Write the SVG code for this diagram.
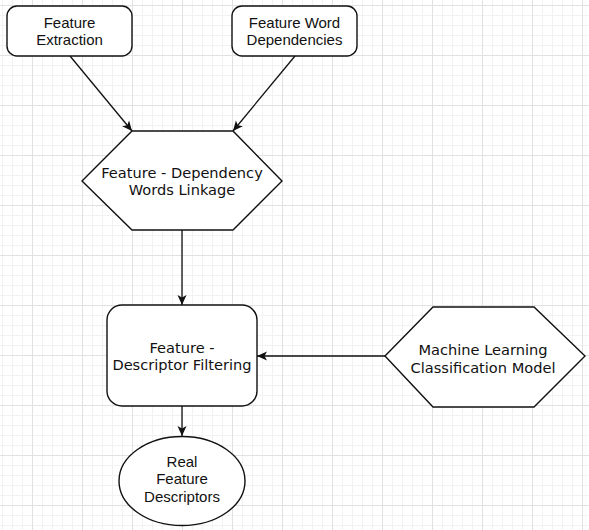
<svg xmlns="http://www.w3.org/2000/svg" width="589" height="530" viewBox="0 0 589 530">
  <defs>
    <pattern id="minor" patternUnits="userSpaceOnUse" x="2" y="5" width="10" height="10">
      <rect x="0" y="0" width="1" height="10" fill="#f2f2f2"/>
      <rect x="0" y="0" width="10" height="1" fill="#f2f2f2"/>
    </pattern>
    <pattern id="major" patternUnits="userSpaceOnUse" x="32" y="5" width="50" height="50">
      <rect x="0" y="0" width="1" height="50" fill="#e1e1e1"/>
      <rect x="0" y="0" width="50" height="1" fill="#e1e1e1"/>
    </pattern>
    <marker id="arrow" viewBox="0 0 10 10" markerUnits="userSpaceOnUse" markerWidth="10" markerHeight="10" refX="10" refY="5" orient="auto">
      <path d="M0,0.5 L10,5 L0,9.5 L2.5,5 Z" fill="#111"/>
    </marker>
    <style>
      .shape { fill: #ffffff; stroke: #111111; stroke-width: 1.4; }
      .edge { fill: none; stroke: #111111; stroke-width: 1.3; marker-end: url(#arrow); }
      .arial { font-family: "Liberation Sans", Arial, sans-serif; font-size: 15px; fill: #111; text-anchor: middle; }
      .verdana { font-family: "DejaVu Sans", Verdana, sans-serif; font-size: 14.6px; fill: #111; text-anchor: middle; }
    </style>
  </defs>

  <rect width="589" height="530" fill="#ffffff"/>
  <rect width="589" height="530" fill="url(#minor)"/>
  <rect width="589" height="530" fill="url(#major)"/>

  <g id="connectors">
    <line class="edge" x1="70" y1="56" x2="132" y2="131"/>
    <line class="edge" x1="295" y1="56" x2="233" y2="131"/>
    <line class="edge" x1="182" y1="230" x2="182" y2="305"/>
    <line class="edge" x1="385" y1="356" x2="257" y2="356"/>
    <line class="edge" x1="182" y1="406" x2="182" y2="436"/>
  </g>

  <g id="feature-extraction">
    <rect class="shape" x="7" y="6" width="125" height="50" rx="10" ry="10"/>
    <text class="arial" x="69.5" y="28">Feature</text>
    <text class="arial" x="69.5" y="45">Extraction</text>
  </g>

  <g id="feature-word-dependencies">
    <rect class="shape" x="232" y="6" width="125" height="50" rx="10" ry="10"/>
    <text class="arial" x="294.5" y="28">Feature Word</text>
    <text class="arial" x="294.5" y="45">Dependencies</text>
  </g>

  <g id="feature-dependency-linkage">
    <polygon class="shape" points="132,131 233,131 282,181 233,230 132,230 82,181"/>
    <text class="verdana" x="182" y="177.5">Feature - Dependency</text>
    <text class="verdana" x="182" y="194.5">Words Linkage</text>
  </g>

  <g id="feature-descriptor-filtering">
    <rect class="shape" x="107" y="305" width="150" height="101" rx="15" ry="15"/>
    <text class="verdana" x="182" y="353">Feature -</text>
    <text class="verdana" x="182" y="370">Descriptor Filtering</text>
  </g>

  <g id="ml-classification-model">
    <polygon class="shape" points="433,307 534,307 585,356 534,407 433,407 385,356"/>
    <text class="verdana" x="483" y="355">Machine Learning</text>
    <text class="verdana" x="483" y="372.5">Classification Model</text>
  </g>

  <g id="real-feature-descriptors">
    <ellipse class="shape" cx="182" cy="481" rx="63" ry="44.5"/>
    <text class="arial" x="182" y="467">Real</text>
    <text class="arial" x="182" y="484">Feature</text>
    <text class="arial" x="182" y="501.5">Descriptors</text>
  </g>
</svg>
